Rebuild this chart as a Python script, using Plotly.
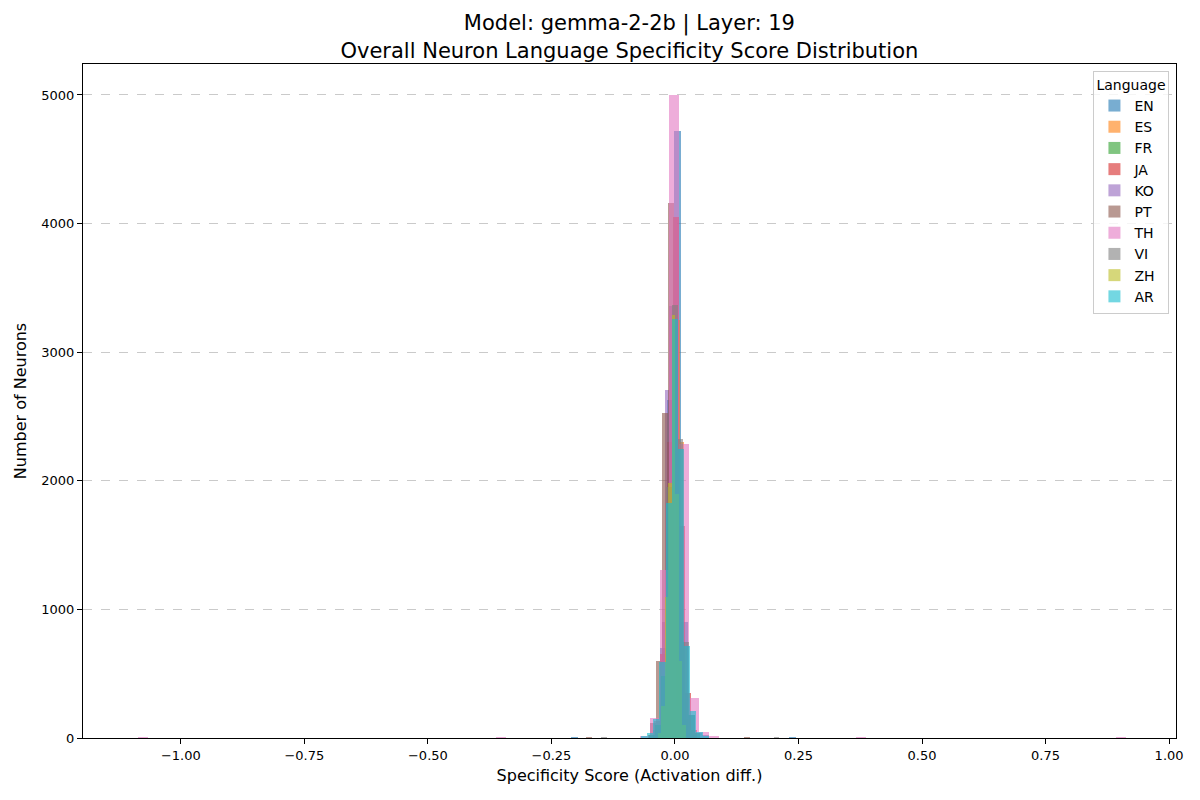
import plotly.graph_objects as go

# config
MODEL_NAME = 'gemma-2-2b'
LAYER = 19

# data: per-language histogram (first bin edge, bin width, counts)
LANGS = ['EN', 'ES', 'FR', 'JA', 'KO', 'PT', 'TH', 'VI', 'ZH', 'AR']
COLORS = ['#1f77b4', '#ff7f0e', '#2ca02c', '#d62728', '#9467bd',
          '#8c564b', '#e377c2', '#7f7f7f', '#bcbd22', '#17becf']

BIN_START = {
    'EN': -0.044, 'ES': -0.035, 'FR': -0.034, 'JA': -0.0545, 'KO': -0.0346,
    'PT': -0.050, 'TH': -0.0714, 'VI': -0.052, 'ZH': -0.0345, 'AR': -0.069,
}
BIN_WIDTH = {
    'EN': 0.014, 'ES': 0.0075, 'FR': 0.0075, 'JA': 0.0125, 'KO': 0.0075,
    'PT': 0.012, 'TH': 0.0201, 'VI': 0.0115, 'ZH': 0.007, 'AR': 0.0125,
}
COUNTS = {
    'EN': [60, 700, 2630, 4720, 900, 180, 40, 20],
    'ES': [20, 40, 150, 700, 1900, 3250, 2300, 700, 150, 40],
    'FR': [40, 150, 750, 1950, 3200, 2250, 700, 150, 40, 20],
    'JA': [20, 130, 650, 2300, 4055, 1650, 350, 60],
    'KO': [70, 900, 2706, 3360, 1900, 250, 40],
    'PT': [120, 600, 2527, 4160, 1400, 300, 60],
    'TH': [15, 155, 1310, 5000, 2290, 310, 45, 10],
    'VI': [20, 100, 480, 1950, 3367, 2325, 750, 180, 40],
    'ZH': [40, 250, 1100, 1983, 3290, 1900, 600, 100],
    'AR': [12, 40, 150, 590, 1827, 3258, 2247, 715, 210, 50, 15],
}

# a few scattered outlier neurons far out in the tails
OUTLIER_X = {
    'TH': [-1.087, -0.362, 0.367, 0.893],
    'EN': [-0.21, 0.23],
    'PT': [-0.18, 0.14],
    'VI': [-0.15, 0.20],
}
OUTLIER_COUNTS = {
    'TH': [1, 2, 2, 1],
    'EN': [2, 2],
    'PT': [3, 2],
    'VI': [2, 2],
}

fig = go.Figure()

for lang, color in zip(LANGS, COLORS):
    w = BIN_WIDTH[lang]
    lefts = [BIN_START[lang] + i * w for i in range(len(COUNTS[lang]))]
    ys = list(COUNTS[lang])
    if lang in OUTLIER_X:
        lefts += OUTLIER_X[lang]
        ys += OUTLIER_COUNTS[lang]
    fig.add_trace(go.Bar(
        x=lefts, y=ys, width=w, offset=0, name=lang,
        marker=dict(color=color, line=dict(width=0)),
        opacity=0.6,
    ))

fig.update_layout(
    width=1200, height=800,
    barmode='overlay',
    plot_bgcolor='white', paper_bgcolor='white',
    font=dict(family='DejaVu Sans', size=13, color='black'),
    margin=dict(l=83, r=24, t=64, b=62),
    title=dict(
        text='Model: ' + MODEL_NAME + ' | Layer: ' + str(LAYER) +
             '<br>Overall Neuron Language Specificity Score Distribution',
        x=0.5245, xanchor='center', y=0.962, yanchor='middle',
        font=dict(size=21),
    ),
    xaxis=dict(
        title=dict(text='Specificity Score (Activation diff.)', font=dict(size=16), standoff=8),
        range=[-1.198, 1.014],
        tickvals=[-1.0, -0.75, -0.5, -0.25, 0.0, 0.25, 0.5, 0.75, 1.0],
        tickformat='.2f',
        ticks='outside', ticklen=5, tickcolor='black',
        showline=True, linecolor='black', linewidth=1, mirror=True,
        showgrid=False, zeroline=False,
    ),
    yaxis=dict(
        title=dict(text='Number of Neurons', font=dict(size=16), standoff=10),
        range=[0, 5241],
        tickvals=[0, 1000, 2000, 3000, 4000, 5000],
        tickformat='d',
        ticks='outside', ticklen=5, tickcolor='black',
        showline=True, linecolor='black', linewidth=1, mirror=True,
        showgrid=True, gridcolor='rgba(180,180,180,0.7)', griddash='dash', gridwidth=1,
        zeroline=False,
    ),
    legend=dict(
        title=dict(text='Language', side='top', font=dict(size=14)),
        x=0.994, xanchor='right', y=0.99, yanchor='top',
        bgcolor='rgba(255,255,255,0.8)', bordercolor='#cccccc', borderwidth=1,
        font=dict(size=14), tracegroupgap=0,
    ),
    bargap=0,
)

# drop the default page margin so the figure sits at the window corner
fig.write_html("out.html", config={'displayModeBar': False},
               post_script="document.body.style.margin='0';")
